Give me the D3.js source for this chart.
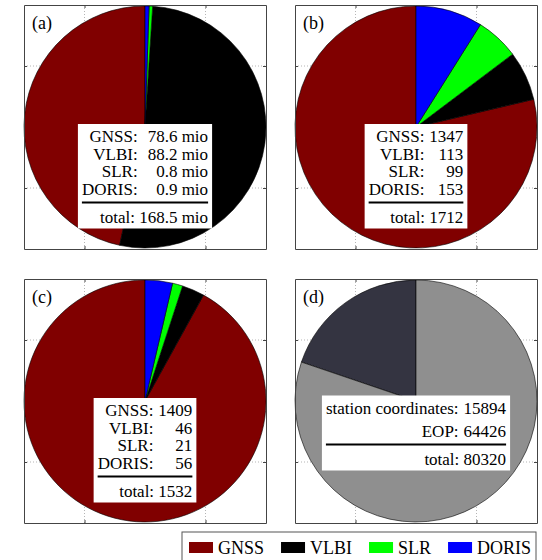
<!DOCTYPE html>
<html>
<head>
<meta charset="utf-8">
<script src="https://cdn.jsdelivr.net/npm/d3@7"></script>
<style>
  body { margin: 0; background: #fff; }
  svg { display: block; }
  text { font-family: "Liberation Serif", "Times New Roman", serif; }
</style>
</head>
<body>
<svg id="chart" width="542" height="560"></svg>
<script>
// data
const techniques = ["GNSS", "VLBI", "SLR", "DORIS"];
const obsMio = [78.6, 88.2, 0.8, 0.9];        // (a) observations, million
const stationCounts = [1347, 113, 99, 153];   // (b)
const sessionCounts = [1409, 46, 21, 56];     // (c)
const paramNames = ["station coordinates", "EOP"];
const paramCounts = [15894, 64426];           // (d)

const techColors = ["#800000", "#000000", "#00ff00", "#0000ff"];
const paramColors = ["#343441", "#8f8f8f"];

const svg = d3.select("#chart");
const fontSize = 18;      // labels, legend
const tableFont = 17;     // tables inside the pies
const W = 242, H = 244;
const gridTicks = [-0.5, 0.5];

const fmtMio = v => d3.format(".1f")(v) + " mio";
const fmtInt = v => d3.format("d")(v);

const panels = [
    { tag: "(a)", names: techniques, values: obsMio, colors: techColors, fmt: fmtMio,
      left: 24, top: 5, gap: 10, step: 17.5, boxDy: -3 },
    { tag: "(b)", names: techniques, values: stationCounts, colors: techColors, fmt: fmtInt,
      left: 295, top: 5, gap: 5, step: 17.5, boxDy: -3 },
    { tag: "(c)", names: techniques, values: sessionCounts, colors: techColors, fmt: fmtInt,
      left: 24, top: 279, gap: 5, step: 17.5, boxDy: -3 },
    { tag: "(d)", names: paramNames, values: paramCounts, colors: paramColors, fmt: fmtInt,
      left: 295, top: 279, gap: 5, step: 23, boxDy: -5.5 }
];

function textWidth(s, size) {
    const t = svg.append("text").attr("font-size", size).text(s);
    const w = t.node().getComputedTextLength();
    t.remove();
    return w;
}

function drawPanel(p) {
    const g = svg.append("g");
    const x = d3.scaleLinear().domain([-1, 1]).range([p.left, p.left + W]);
    const y = d3.scaleLinear().domain([-1, 1]).range([p.top + H, p.top]);

    // dotted grid behind the pie
    g.selectAll(".gx").data(gridTicks).enter().append("line")
        .attr("x1", d => x(d)).attr("x2", d => x(d))
        .attr("y1", p.top).attr("y2", p.top + H)
        .attr("stroke", "#b5b5b5").attr("stroke-width", 1)
        .attr("stroke-dasharray", "1,2");
    g.selectAll(".gy").data(gridTicks).enter().append("line")
        .attr("y1", d => y(d)).attr("y2", d => y(d))
        .attr("x1", p.left).attr("x2", p.left + W)
        .attr("stroke", "#b5b5b5").attr("stroke-width", 1)
        .attr("stroke-dasharray", "1,2");

    // pie, counter-clockwise from 12 o'clock
    const cx = x(0), cy = y(0), r = W / 2;
    const pie = d3.pie().sort(null).value(d => d.value)
        .startAngle(0).endAngle(-2 * Math.PI);
    const data = p.names.map((n, i) => ({ label: n, value: p.values[i], color: p.colors[i] }));
    const arc = d3.arc().innerRadius(0).outerRadius(r);

    g.append("g")
        .attr("transform", `translate(${cx},${cy})`)
        .selectAll("path")
        .data(pie(data))
        .enter()
        .append("path")
        .attr("d", arc)
        .attr("fill", d => d.data.color)
        .attr("stroke", "#000")
        .attr("stroke-width", 0.6);

    // axes box with inward ticks, no labels
    const axes = [
        [d3.axisBottom(x), `translate(0,${p.top + H})`],
        [d3.axisTop(x), `translate(0,${p.top})`],
        [d3.axisLeft(y), `translate(${p.left},0)`],
        [d3.axisRight(y), `translate(${p.left + W},0)`]
    ];
    axes.forEach(([ax, tr]) => {
        g.append("g")
            .attr("transform", tr)
            .attr("color", "#444")
            .call(ax.tickValues(gridTicks).tickSizeInner(-3).tickSizeOuter(0).tickFormat(""));
    });

    g.append("text")
        .attr("x", p.left + 8)
        .attr("y", p.top + 24)
        .attr("font-size", fontSize)
        .text(p.tag);

    drawTable(g, p, cx, cy);
}

function drawTable(g, p, cx, cy) {
    const pad = 4;
    const labels = p.names.map(n => n + ":");
    const vals = p.values.map(p.fmt);
    const totalStr = "total: " + p.fmt(d3.sum(p.values));

    const labelW = d3.max(labels, s => textWidth(s, tableFont));
    const valueW = d3.max(vals, s => textWidth(s, tableFont));
    const totalW = textWidth(totalStr, tableFont);
    const innerW = Math.max(labelW + p.gap + valueW, totalW);
    const boxW = innerW + 2 * pad;
    const boxLeft = cx - boxW / 2;
    const boxTop = cy + p.boxDy;
    const valueRight = boxLeft + boxW - pad;
    const labelRight = valueRight - valueW - p.gap;

    const rowY = i => boxTop + 18 + i * p.step;
    const lastY = rowY(labels.length - 1);
    const ruleY = lastY + 8;
    const totalY = ruleY + 20;
    const boxH = totalY + 6 - boxTop;

    const t = g.append("g");
    t.append("rect")
        .attr("x", boxLeft).attr("y", boxTop)
        .attr("width", boxW).attr("height", boxH)
        .attr("fill", "#fff");

    t.selectAll(".lab").data(labels).enter().append("text")
        .attr("x", labelRight).attr("y", (d, i) => rowY(i))
        .attr("text-anchor", "end").attr("font-size", tableFont)
        .text(d => d);
    t.selectAll(".val").data(vals).enter().append("text")
        .attr("x", valueRight).attr("y", (d, i) => rowY(i))
        .attr("text-anchor", "end").attr("font-size", tableFont)
        .text(d => d);

    t.append("line")
        .attr("x1", boxLeft + pad).attr("x2", valueRight)
        .attr("y1", ruleY).attr("y2", ruleY)
        .attr("stroke", "#000").attr("stroke-width", 2);

    t.append("text")
        .attr("x", valueRight).attr("y", totalY)
        .attr("text-anchor", "end").attr("font-size", tableFont)
        .text(totalStr);
}

panels.forEach(drawPanel);

// legend along the bottom
const legend = svg.append("g");
legend.append("rect")
    .attr("x", 182).attr("y", 532)
    .attr("width", 354).attr("height", 40)
    .attr("fill", "#fff")
    .attr("stroke", "#555").attr("stroke-width", 1);

let lx = 189;
techniques.forEach((name, i) => {
    legend.append("rect")
        .attr("x", lx).attr("y", 542)
        .attr("width", 24).attr("height", 11)
        .attr("fill", techColors[i]);
    legend.append("text")
        .attr("x", lx + 29).attr("y", 554)
        .attr("font-size", fontSize)
        .text(name);
    lx += 29 + textWidth(name, fontSize) + 17;
});
</script>
</body>
</html>
